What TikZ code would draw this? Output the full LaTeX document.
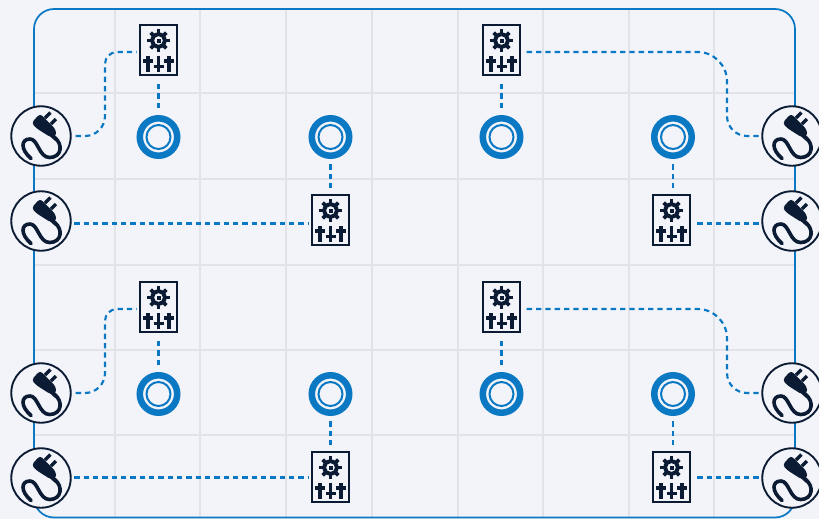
\documentclass[tikz,border=0pt]{standalone}
\usepackage{tikz}
\usetikzlibrary{positioning, calc}

\definecolor{pagebg}{HTML}{F2F4F9}
\definecolor{gridgray}{HTML}{E1E3E8}
\definecolor{wireblue}{HTML}{0A78C2}
\definecolor{darknavy}{HTML}{0B1B33}

\tikzset{
    gridline/.style={gridgray, line width=1.5pt},
    framebox/.style={wireblue, line width=1.3pt, rounded corners=15pt},
    wire/.style={wireblue, line width=1.6pt, dash pattern=on 4pt off 3pt},
    plugbox/.style={circle, draw=darknavy, fill=pagebg, line width=1.4pt, minimum size=44.6pt, inner sep=0pt},
    panelbox/.style={rectangle, draw=darknavy, fill=pagebg, line width=1.5pt, minimum width=27.5pt, minimum height=37.5pt, inner sep=0pt},
    ringbox/.style={circle, draw=wireblue, fill=pagebg, line width=4.9pt, minimum size=28.1pt, inner sep=0pt},
    plugicon/.pic={
        % plug body
        \fill[darknavy, rounded corners=2.5pt] (-9.5,-13) -- (-1,-22.5) -- (14.5,-7) -- (15.5,0) -- (10,1.5) -- (-5,-8) -- cycle;
        \draw[darknavy, line width=2.6pt] (4,-18) -- (9.5,-23.5);
        \draw[darknavy, line width=2.6pt] (10,-12) -- (15,-17);
        \draw[darknavy, line width=3pt] (10.5,-1) -- (15,3);
        % cord
        \draw[darknavy, line width=2.7pt, line cap=round] (14,2) .. controls (22,8) and (21,21.5) .. (8.5,21.5)
            .. controls (-2,21.5) and (-3,3) .. (-11,3) .. controls (-20,3) and (-21,13) .. (-10,22.5);
    },
    sliderset/.pic={
        % gear
        \foreach \a in {0,45,...,315}
            \fill[darknavy, rotate around={\a:(0,-9.5)}] (-1.8,-20.6) rectangle (1.8,-15);
        \fill[darknavy, even odd rule] (0,-9.5) circle (8.2) (0,-9.5) circle (4.4);
        \fill[darknavy] (-2,-11.5) rectangle (2,-7.5);
        % sliders
        \foreach \x in {-10.5,10.5} {
            \draw[darknavy, line width=2.6pt] (\x,6) -- (\x,21.5);
            \draw[darknavy, line width=2.3pt] (\x-5,11) -- (\x+5,11);
        }
        \draw[darknavy, line width=2.6pt] (0,5.5) -- (0,21.5);
        \draw[darknavy, line width=2.3pt] (-5,16.5) -- (5,16.5);
    }
}

\begin{document}
\begin{tikzpicture}[x=0.75pt, y=-0.75pt]

    \useasboundingbox (0,0) rectangle (819,519);
    \clip (0,0) rectangle (819,519);
    \fill[pagebg] (0,0) rectangle (819,519);

    % Grid
    \foreach \x in {115,200,286,372,458,543,629,714}
        \draw[gridline] (\x,9) -- (\x,517);
    \foreach \y in {93,179,265,350,435}
        \draw[gridline] (34,\y) -- (795,\y);

    % Frame
    \draw[framebox] (34,9) rectangle (795,517.5);

    % Plugs
    \foreach \name/\x/\y in {plugA/41/136, plugB/41/221, plugC/41/393, plugD/41/478,
                             plugE/792/136, plugF/792/221, plugG/792/393, plugH/792/478} {
        \node[plugbox] (\name) at (\x,\y) {};
        \pic at (\name) {plugicon};
    }

    % Panels
    \foreach \name/\x/\y in {panelA/158.5/50, panelB/330.5/220, panelC/501.5/50, panelD/671.5/220,
                             panelE/158.5/307, panelF/330.5/477, panelG/501.5/307, panelH/671.5/477} {
        \node[panelbox] (\name) at (\x,\y) {};
        \pic at (\name) {sliderset};
    }

    % Rings
    \foreach \name/\x/\y in {ringA/158.5/137, ringB/330.5/137, ringC/501.5/137, ringD/673/137,
                             ringE/158.5/394, ringF/330.5/394, ringG/501.5/394, ringH/673/394} {
        \node[ringbox] (\name) at (\x,\y) {};
        \draw[wireblue, line width=1.5pt] (\name) circle (12);
    }

    % Panel to ring
    \draw[wire] ([yshift=-6pt]panelA.south) -- ([yshift=4pt]ringA.north);
    \draw[wire] ([yshift=-4pt]ringB.south) -- ([yshift=4pt]panelB.north);
    \draw[wire] ([yshift=-6pt]panelC.south) -- ([yshift=4pt]ringC.north);
    \draw[wire] ([yshift=-4pt]ringD.south) -- ([yshift=4pt]panelD.north -| ringD);
    \draw[wire] ([yshift=-6pt]panelE.south) -- ([yshift=4pt]ringE.north);
    \draw[wire] ([yshift=-4pt]ringF.south) -- ([yshift=4pt]panelF.north);
    \draw[wire] ([yshift=-6pt]panelG.south) -- ([yshift=4pt]ringG.north);
    \draw[wire] ([yshift=-4pt]ringH.south) -- ([yshift=4pt]panelH.north -| ringH);

    % Plug to panel, bent
    \draw[wire] ([xshift=3pt]plugA.east) [rounded corners=15pt] -- (105,136) [rounded corners=9pt] -- (105,52) -- ([xshift=-2pt]panelA.west |- 105,52);
    \draw[wire] ([xshift=3pt]plugC.east) [rounded corners=15pt] -- (105,393) [rounded corners=9pt] -- (105,309) -- ([xshift=-2pt]panelE.west |- 105,309);
    \draw[wire] ([xshift=-2pt]plugE.west) [rounded corners=15pt] -- (727,136) [rounded corners=22pt] -- (727,52) -- ([xshift=4pt]panelC.east |- 727,52);
    \draw[wire] ([xshift=-2pt]plugG.west) [rounded corners=15pt] -- (727,393) [rounded corners=22pt] -- (727,309) -- ([xshift=4pt]panelG.east |- 727,309);

    % Plug to panel, straight
    \draw[wire] ([xshift=2pt]plugB.east |- 75,223.5) -- ([xshift=-2pt]panelB.west |- 75,223.5);
    \draw[wire] ([xshift=2pt]plugD.east |- 75,477.5) -- ([xshift=-2pt]panelF.west |- 75,477.5);
    \draw[wire] ([xshift=-2pt]plugF.west |- 75,223.5) -- ([xshift=3pt]panelD.east |- 75,223.5);
    \draw[wire] ([xshift=-2pt]plugH.west |- 75,477.5) -- ([xshift=3pt]panelH.east |- 75,477.5);

\end{tikzpicture}
\end{document}
